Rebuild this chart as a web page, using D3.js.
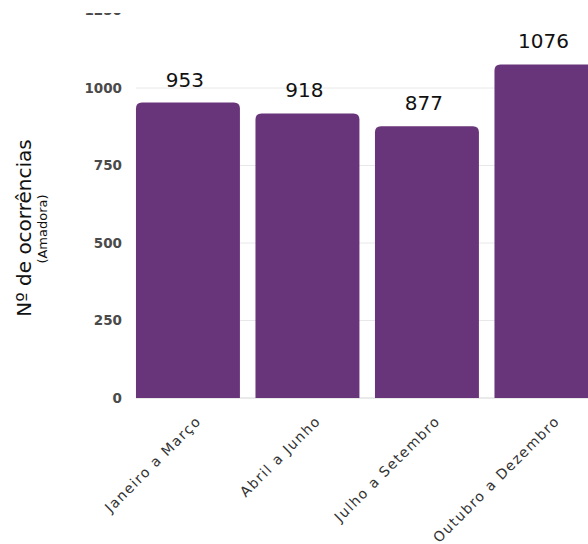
<!DOCTYPE html>
<html>
<head>
<meta charset="utf-8">
<script src="https://cdn.jsdelivr.net/npm/d3@7"></script>
<style>
  body { margin: 0; background: #fff; }
  svg { display: block; font-family: "DejaVu Sans", sans-serif; }
</style>
</head>
<body>
<div id="chart"></div>
<script>
// data
const categories = ["Janeiro a Março", "Abril a Junho", "Julho a Setembro", "Outubro a Dezembro"];
const values = [953, 918, 877, 1076];
const yTicks = [0, 250, 500, 750, 1000, 1250];

const width = 588, height = 544;
const svg = d3.select("#chart").append("svg")
    .attr("width", width)
    .attr("height", height);

// the picture is cropped at the top, hide what lies above
svg.append("clipPath").attr("id", "crop")
  .append("rect").attr("x", 0).attr("y", 13).attr("width", width).attr("height", height - 13);

const g = svg.append("g").attr("clip-path", "url(#crop)");

const x = d3.scaleBand()
    .domain(categories)
    .range([128.2, 606.2])
    .paddingInner(0.13)
    .paddingOuter(0.065);

const y = d3.scaleLinear()
    .domain([0, 1250])
    .range([398, 10.5]);

// grid lines
g.append("g")
  .selectAll("line")
  .data(yTicks)
  .enter().append("line")
    .attr("x1", 136)
    .attr("x2", width)
    .attr("y1", d => y(d))
    .attr("y2", d => y(d))
    .attr("stroke", d => d === 0 ? "#d4d4d4" : "#e8e8e8")
    .attr("stroke-width", 1);

// y tick labels
g.append("g")
  .selectAll("text")
  .data(yTicks)
  .enter().append("text")
    .attr("x", 122)
    .attr("y", d => y(d))
    .attr("dy", "0.36em")
    .attr("text-anchor", "end")
    .attr("font-size", 13.5)
    .attr("font-weight", "bold")
    .attr("fill", "#4a4a4a")
    .text(d => d);

// bars with rounded top corners
const r = 6;
function barPath(d, i) {
  const x0 = x(categories[i]), w = x.bandwidth();
  const y0 = y(d), y1 = y(0);
  return `M${x0},${y1}V${y0 + r}Q${x0},${y0} ${x0 + r},${y0}H${x0 + w - r}Q${x0 + w},${y0} ${x0 + w},${y0 + r}V${y1}Z`;
}

g.append("g")
  .selectAll("path")
  .data(values)
  .enter().append("path")
    .attr("d", barPath)
    .attr("fill", "#69357a");

// value labels
g.append("g")
  .selectAll("text")
  .data(values)
  .enter().append("text")
    .attr("x", (d, i) => x(categories[i]) + x.bandwidth() / 2 - 3)
    .attr("y", d => y(d) - 16)
    .attr("text-anchor", "middle")
    .attr("font-size", 20)
    .attr("fill", "#111")
    .text(d => d);

// category labels
g.append("g")
  .selectAll("text")
  .data(categories)
  .enter().append("text")
    .attr("transform", d => `translate(${x(d) + x.bandwidth() / 2 + 14},${422}) rotate(-45)`)
    .attr("text-anchor", "end")
    .attr("font-size", 14)
    .attr("letter-spacing", 1.4)
    .attr("fill", "#333")
    .text(d => d);

// axis title
svg.append("text")
    .attr("transform", "translate(31,228) rotate(-90)")
    .attr("text-anchor", "middle")
    .attr("font-size", 20)
    .attr("fill", "#111")
    .text("Nº de ocorrências");

svg.append("text")
    .attr("transform", "translate(47,229) rotate(-90)")
    .attr("text-anchor", "middle")
    .attr("font-size", 13)
    .attr("fill", "#111")
    .text("(Amadora)");
</script>
</body>
</html>
